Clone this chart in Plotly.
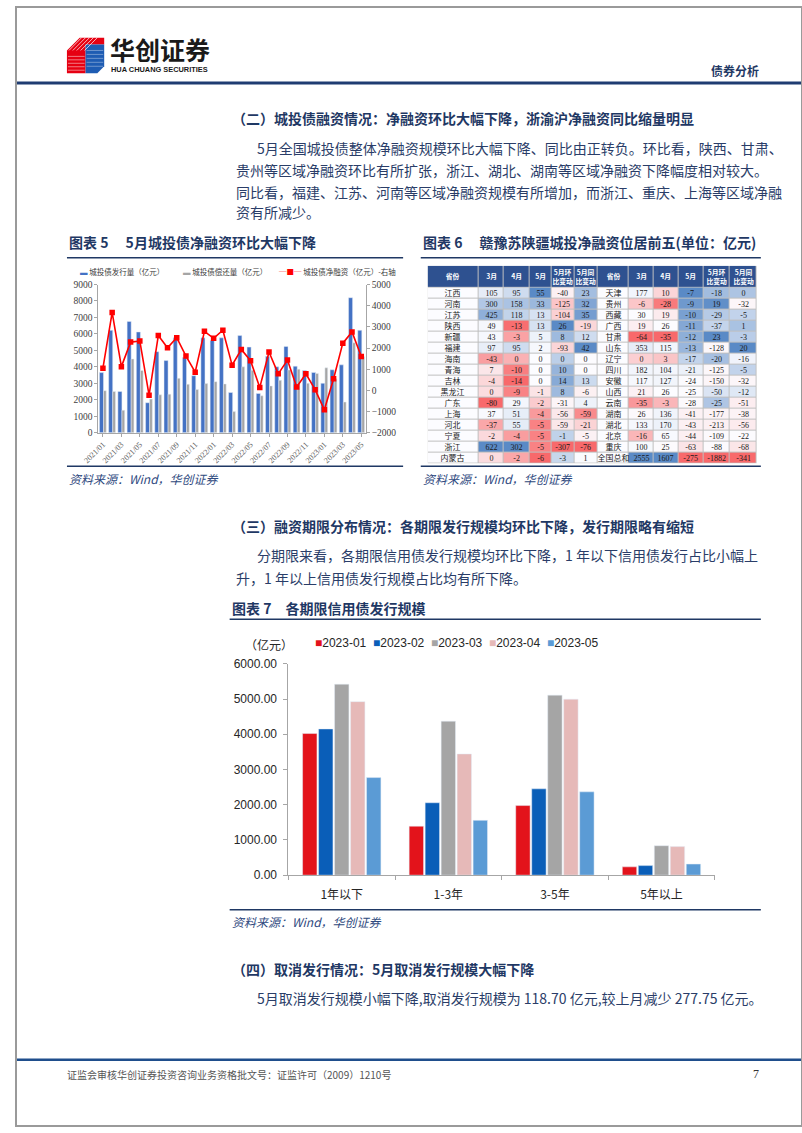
import numpy as np
import plotly.graph_objects as go

W, H = 802, 1133
CJK = "Noto Sans CJK SC"
SERIF = "Liberation Serif, Noto Sans CJK SC"
SANS = "Liberation Sans, Arial, Noto Sans CJK SC"
NAVY = "#1F3864"
BODY = "#2A3D68"


def px(x):
    return x / W


def py(y):
    return 1 - y / H


# ---------------- 图表5 data ----------------
months = ["2021/01", "2021/02", "2021/03", "2021/04", "2021/05", "2021/06", "2021/07", "2021/08",
          "2021/09", "2021/10", "2021/11", "2021/12", "2022/01", "2022/02", "2022/03", "2022/04",
          "2022/05", "2022/06", "2022/07", "2022/08", "2022/09", "2022/10", "2022/11", "2022/12",
          "2023/01", "2023/02", "2023/03", "2023/04", "2023/05"]
issuance = [3650, 6220, 2500, 6760, 6120, 1820, 4920, 4380, 5760, 4560, 3460, 5760, 5600, 5760, 2440,
            5900, 5200, 2380, 4640, 4000, 5240, 4040, 3780, 3660, 3000, 3820, 4120, 8200, 6220]
repayment = [2550, 2500, 1360, 4480, 3780, 2040, 2300, 2340, 3300, 2940, 2620, 2980, 3100, 2960, 1280,
             4000, 3800, 2240, 2840, 3180, 3810, 3860, 3000, 3600, 3940, 3270, 1860, 5460, 4620]
net_financing = [1050, 3680, 1120, 2280, 2330, -230, 2590, 2010, 2490, 1620, 860, 2790, 2460, 2840, 1190,
                 1930, 1400, 140, 1810, 780, 1430, 160, 780, 30, -920, 550, 2230, 2760, 1600]
c5_names = ["城投债发行量（亿元）", "城投债偿还量（亿元）", "城投债净融资（亿元）-右轴"]
c5_colors = ["#4472C4", "#A5A5A5", "#FF0000"]

# ---------------- 图表6 data ----------------
left_prov = ["江西", "河南", "江苏", "陕西", "新疆", "福建", "海南", "青海", "吉林", "黑龙江", "广东", "上海",
             "河北", "宁夏", "浙江", "内蒙古"]
left_mar = [105, 300, 425, 49, 43, 97, -43, 7, -4, 0, -80, 37, -37, -2, 622, 0]
left_apr = [95, 158, 118, -13, -3, 95, 0, -10, -14, -9, 29, 51, 55, -4, 302, -2]
left_may = [55, 33, 13, 13, 5, 2, 0, 0, 0, -1, -2, -4, -5, -5, -5, -6]
left_mom = [-40, -125, -104, 26, 8, -93, 0, 10, 14, 8, -31, -56, -59, -1, -307, -3]
left_yoy = [23, 32, 35, -19, 12, 42, 0, 0, 13, -6, 4, -59, -21, -5, -76, 1]
right_prov = ["天津", "贵州", "西藏", "广西", "甘肃", "山东", "辽宁", "四川", "安徽", "山西", "云南", "湖南",
              "湖北", "北京", "重庆", "全国总和"]
right_mar = [177, -6, 30, 19, -64, 353, 0, 182, 117, 21, -35, 26, 133, -16, 100, 2555]
right_apr = [10, -28, 19, 26, -35, 115, 3, 104, 127, 26, -3, 136, 170, 65, 25, 1607]
right_may = [-7, -9, -10, -11, -12, -13, -17, -21, -24, -25, -28, -41, -43, -44, -63, -275]
right_mom = [-18, 19, -29, -37, 23, -128, -20, -125, -150, -50, -25, -177, -213, -109, -88, -1882]
right_yoy = [0, -32, -5, 1, -3, 20, -16, -5, -32, -12, -51, -38, -56, -22, -68, -341]
table_header = ["省份", "3月", "4月", "5月", "5月环<br>比变动", "5月同<br>比变动",
                "省份", "3月", "4月", "5月", "5月环<br>比变动", "5月同<br>比变动"]
col_widths = [51.7, 26, 25.7, 22.7, 23.3, 23.3, 32.3, 25, 25, 25.7, 26.7, 27.7]
header_h, row_h = 22, 11.06

# ---------------- 图表7 data ----------------
tenors = ["1年以下", "1-3年", "3-5年", "5年以上"]
periods = ["2023-01", "2023-02", "2023-03", "2023-04", "2023-05"]
v_2023_01 = [4020, 1390, 1975, 235]
v_2023_02 = [4150, 2055, 2450, 270]
v_2023_03 = [5420, 4370, 5110, 835]
v_2023_04 = [4925, 3440, 4995, 810]
v_2023_05 = [2770, 1555, 2365, 315]
c7_values = [v_2023_01, v_2023_02, v_2023_03, v_2023_04, v_2023_05]
c7_colors = ["#E3131B", "#0A5EB8", "#A5A5A5", "#E6B9B8", "#5B9BD5"]

fig = go.Figure()

# ---- chart 5 traces ----
fig.add_trace(go.Bar(x=months, y=issuance, name=c5_names[0], marker_color=c5_colors[0],
                     offset=-0.38, width=0.44, xaxis="x", yaxis="y", hoverinfo="skip"))
fig.add_trace(go.Bar(x=months, y=repayment, name=c5_names[1], marker_color=c5_colors[1],
                     offset=0.06, width=0.3, xaxis="x", yaxis="y", hoverinfo="skip"))
fig.add_trace(go.Scatter(x=months, y=net_financing, name=c5_names[2], mode="lines+markers",
                         line=dict(color=c5_colors[2], width=1.6),
                         marker=dict(symbol="square", size=5.5, color=c5_colors[2]),
                         xaxis="x", yaxis="y2", hoverinfo="skip"))

# ---- chart 7 traces ----
for name, vals, col in zip(periods, c7_values, c7_colors):
    fig.add_trace(go.Bar(x=tenors, y=vals, name=name, marker_color=col,
                         xaxis="x2", yaxis="y3", hoverinfo="skip"))


# ---- table 6 as heatmaps ----
def scale_col(vals):
    a = np.array(vals, float)
    lo, med, hi = a.min(), np.median(a), a.max()
    up = (a - med) / (hi - med if hi > med else 1)
    dn = -(med - a) / (med - lo if med > lo else 1)
    return np.where(a >= med, up, dn)


left_cols = [left_mar, left_apr, left_may, left_mom, left_yoy]
right_cols = [right_mar, right_apr, right_may, right_mom, right_yoy]
nrows = len(left_prov)
zcols = [np.zeros(nrows)] + [scale_col(c) for c in left_cols] + [np.zeros(nrows)] + [scale_col(c) for c in right_cols]
z_body = np.column_stack(zcols)
tcols = [left_prov] + [[str(v) for v in c] for c in left_cols] + [right_prov] + [[str(v) for v in c] for c in right_cols]
text_body = [[tcols[j][i] for j in range(12)] for i in range(nrows)]

x_edges = np.concatenate([[0], np.cumsum(col_widths)])
y_edges_body = header_h + row_h * np.arange(nrows + 1)
total_w = x_edges[-1]
total_h = y_edges_body[-1]

fig.add_trace(go.Heatmap(x=[0, total_w], y=[0, total_h], z=[[0]], colorscale=[[0, "#BFBFBF"], [1, "#BFBFBF"]],
                         showscale=False, xaxis="x3", yaxis="y4", hoverinfo="skip"))
fig.add_trace(go.Heatmap(x=x_edges, y=[0, header_h], z=[[1] * 12],
                         text=[["<b>%s</b>" % h for h in table_header]], texttemplate="%{text}",
                         textfont=dict(family=CJK, size=6.8, color="white"),
                         colorscale=[[0, "#2E5190"], [1, "#2E5190"]], showscale=False, xgap=1, ygap=1,
                         xaxis="x3", yaxis="y4", hoverinfo="skip"))
fig.add_trace(go.Heatmap(x=x_edges, y=y_edges_body, z=z_body, text=text_body, texttemplate="%{text}",
                         textfont=dict(family=SERIF, size=8, color="#1a1a1a"),
                         colorscale=[[0, "#F8696B"], [0.5, "#FCFCFF"], [1, "#5A8AC6"]], zmin=-1, zmax=1,
                         showscale=False, xgap=1, ygap=1, xaxis="x3", yaxis="y4", hoverinfo="skip"))

# ---------------- annotations ----------------
ann = []


def txt(x, y, s, size=14, color=BODY, family=CJK, xanchor="left", bold=False, italic=False):
    t = s
    if bold:
        t = "<b>" + t + "</b>"
    if italic:
        t = "<i>" + t + "</i>"
    ann.append(dict(x=px(x), y=py(y), xref="paper", yref="paper", text=t, showarrow=False,
                    xanchor=xanchor, yanchor="middle", font=dict(size=size, color=color, family=family)))


# header
txt(94, 43, "华创证券", size=25, color="#1a1a1a", bold=True)
txt(95, 63, "HUA CHUANG SECURITIES", size=7.4, color="#1a1a1a", family=SANS, bold=True)
txt(760, 64, "债券分析", size=12, color=NAVY, xanchor="right", bold=True)

# section 二
txt(218, 112, "（二）城投债融资情况：净融资环比大幅下降，浙渝沪净融资同比缩量明显", bold=True, color=NAVY)
txt(244, 143, "5月全国城投债整体净融资规模环比大幅下降、同比由正转负。环比看，陕西、甘肃、")
txt(222, 165, "贵州等区域净融资环比有所扩张，浙江、湖北、湖南等区域净融资下降幅度相对较大。")
txt(222, 187, "同比看，福建、江苏、河南等区域净融资规模有所增加，而浙江、重庆、上海等区域净融")
txt(222, 208, "资有所减少。")

# figure titles
txt(52, 238, "图表 5\u3000 5月城投债净融资环比大幅下降", bold=True, color=NAVY)
txt(413, 238, "图表 6\u3000 赣豫苏陕疆城投净融资位居前五(单位：亿元)", bold=True, color=NAVY)

# chart 5 legend
leg_marks = ["▬", "▬", "─■─"]
for xpos, name, col, mk in zip([63, 168, 266], c5_names, c5_colors, leg_marks):
    txt(xpos, 268, "<span style='color:%s'>%s</span> %s" % (col, mk, name), size=7.5, color="#404040")

# sources
for sx, sy in [(52, 477), (413, 477), (218, 926)]:
    txt(sx, sy, "资料来源：Wind，华创证券", size=12, color="#2F4A80", italic=True)

# section 三
txt(218, 525, "（三）融资期限分布情况：各期限发行规模均环比下降，发行期限略有缩短", bold=True, color=NAVY)
txt(244, 555, "分期限来看，各期限信用债发行规模均环比下降，1 年以下信用债发行占比小幅上")
txt(222, 578, "升，1 年以上信用债发行规模占比均有所下降。")
txt(218, 609, "图表 7\u3000各期限信用债发行规模", bold=True, color=NAVY)

# chart 7 unit + legend
txt(258, 645, "（亿元）", size=12, color="#262626", xanchor="center")
leg7 = "&nbsp;&nbsp;".join("<span style='color:%s'>■</span>%s" % (c, n) for n, c in zip(periods, c7_colors))
txt(303, 644, leg7, size=12, color="#262626", family=SANS)

# section 四
txt(218, 974, "（四）取消发行情况：5月取消发行规模大幅下降", bold=True, color=NAVY)
txt(244, 1003, "5月取消发行规模小幅下降,取消发行规模为 118.70 亿元,较上月减少 277.75 亿元。")

# footer
txt(50, 1081, "证监会审核华创证券投资咨询业务资格批文号：证监许可（2009）1210号", size=10, color="#555555")
txt(760, 1080, "7", size=12, color="#333333", family=SERIF, xanchor="right")

# ---------------- shapes ----------------
shapes = []


def hline(x0, x1, y, w=1.5, color=NAVY):
    shapes.append(dict(type="line", xref="paper", yref="paper", x0=px(x0), x1=px(x1), y0=py(y), y1=py(y),
                       line=dict(color=color, width=w)))


hline(0, 802, 77, w=3, color="#1F3C72")
hline(52, 395, 254)
hline(413, 760, 254)
hline(52, 395, 465)
hline(413, 760, 465)
hline(218, 760, 620)
hline(218, 760, 914)
hline(0, 802, 1066, w=2.5, color="#1F4E8C")

# page border
shapes.append(dict(type="rect", xref="paper", yref="paper", x0=0, x1=1, y0=0, y1=1,
                   line=dict(color="#9A9A9A", width=2)))


def path(points, color):
    d = "M " + " L ".join("%.4f,%.4f" % (px(a), py(b)) for a, b in points) + " Z"
    shapes.append(dict(type="path", xref="paper", yref="paper", path=d, fillcolor=color,
                       line=dict(width=0)))


# logo icon
path([(52, 44), (65, 31), (90, 31), (90, 38), (71, 38), (71, 67), (52, 67)], "#E60012")
path([(71, 38), (90, 38), (90, 60), (83, 67), (71, 67)], "#1E5CB3")
for k in range(5):
    shapes.append(dict(type="line", xref="paper", yref="paper",
                       x0=px(54 + k * 4), y0=py(44), x1=px(67 + k * 4), y1=py(31),
                       line=dict(color="white", width=0.7)))
    shapes.append(dict(type="line", xref="paper", yref="paper",
                       x0=px(53), y0=py(50 + k * 3.5), x1=px(70), y1=py(50 + k * 3.5),
                       line=dict(color="rgba(255,255,255,0.8)", width=0.6)))
    shapes.append(dict(type="line", xref="paper", yref="paper",
                       x0=px(72), y0=py(44 + k * 4), x1=px(89), y1=py(44 + k * 4),
                       line=dict(color="rgba(255,255,255,0.6)", width=0.6)))

# ---------------- layout ----------------
axcol = "#A6A6A6"
fig.update_layout(
    width=W, height=H, margin=dict(l=0, r=0, t=0, b=0),
    paper_bgcolor="white", plot_bgcolor="rgba(0,0,0,0)",
    showlegend=False, barmode="group", bargap=0.25, bargroupgap=0.1,
    annotations=ann, shapes=shapes,
    xaxis=dict(domain=[px(84), px(357)], anchor="y", type="category", range=[-0.5, len(months) - 0.5],
               tickmode="array", tickvals=months[::2], ticktext=months[::2], tickangle=-45,
               tickfont=dict(family=SERIF, size=8, color="#595959"), showline=True, linecolor=axcol,
               ticks="outside", ticklen=3, tickcolor=axcol, showgrid=False),
    yaxis=dict(domain=[py(431), py(281)], anchor="x", range=[0, 9000], dtick=1000, showgrid=False,
               zeroline=False, showline=True, linecolor=axcol, ticks="outside", ticklen=3, tickcolor=axcol,
               tickfont=dict(family=SERIF, size=9.5, color="#404040")),
    yaxis2=dict(overlaying="y", side="right", anchor="x", range=[-2000, 5000], dtick=1000, showgrid=False,
                zeroline=False, showline=True, linecolor=axcol, ticks="outside", ticklen=3, tickcolor=axcol,
                tickfont=dict(family=SERIF, size=9.5, color="#404040")),
    xaxis2=dict(domain=[px(278), px(713)], anchor="y3", showline=True, linecolor=axcol, ticks="outside",
                tickson="boundaries", ticklen=4, tickcolor=axcol, showgrid=False, ticklabelstandoff=8,
                tickfont=dict(family=CJK, size=12, color="#262626")),
    yaxis3=dict(domain=[py(879), py(665)], anchor="x2", range=[0, 6000], dtick=1000, tickformat=".2f",
                showgrid=False, zeroline=False, showline=True, linecolor=axcol, ticks="outside", ticklen=4,
                tickcolor=axcol, ticklabelstandoff=4, tickfont=dict(family=SANS, size=12, color="#262626")),
    xaxis3=dict(domain=[px(420), px(756)], anchor="y4", range=[0, total_w], visible=False),
    yaxis4=dict(domain=[py(462), py(262)], anchor="x3", range=[total_h, 0], visible=False),
)

fig.write_html("out.html")
